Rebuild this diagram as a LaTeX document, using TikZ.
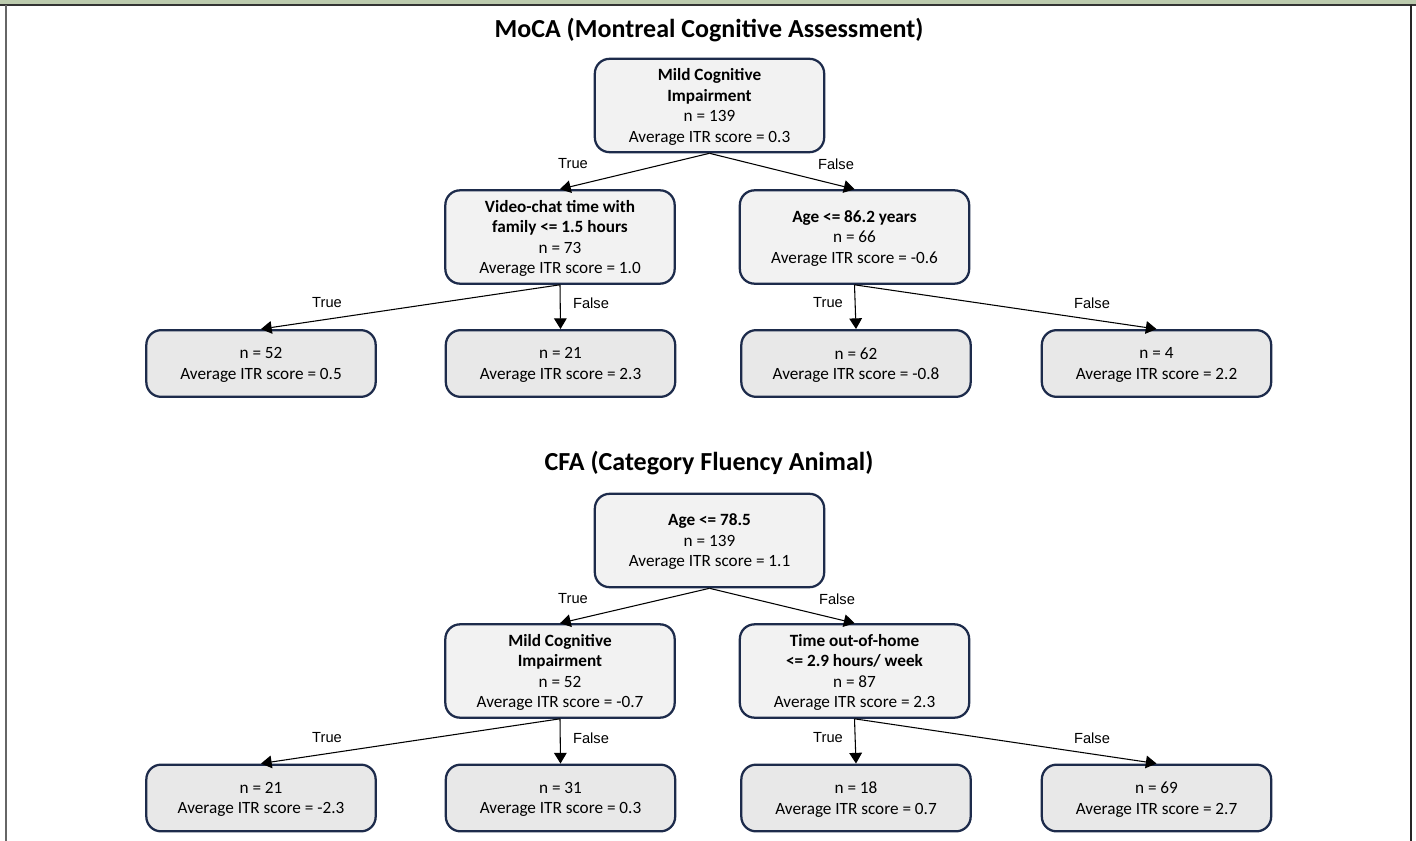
\documentclass[tikz,border=0pt]{standalone}
\usepackage{fontspec}
\setmainfont{Carlito}
\newfontfamily\lblfont{Liberation Sans}
\usetikzlibrary{arrows.meta,positioning}

\definecolor{boxline}{HTML}{1D2B4B}
\definecolor{innerfill}{HTML}{F2F2F2}
\definecolor{leaffill}{HTML}{E8E8E8}
\definecolor{bandgreen}{HTML}{BCCBAE}

\begin{document}
\begin{tikzpicture}[
        x=0.75pt, y=-0.75pt,
        every path/.style={line width=0.8pt},
        split/.style={draw=boxline, line width=1.7pt, rounded corners=11pt, fill=innerfill,
            align=center, minimum width=172pt, minimum height=70pt, inner sep=2pt,
            font=\fontsize{12.9}{15.4}\selectfont, text depth=-2.3pt},
        leaf/.style={split, fill=leaffill, minimum height=50pt},
        heading/.style={font=\fontsize{19.5}{23}\selectfont\bfseries},
        lbl/.style={font=\lblfont\fontsize{11}{13}\selectfont, inner sep=1pt},
        edge/.style={-{Triangle[length=8pt,width=9.5pt]}}
    ]

    % frame
    \useasboundingbox (0,0) rectangle (1416,841);
    \fill[bandgreen] (0,0) rectangle (1416,4);
    \draw[line width=1.5pt, black!80] (0,5) -- (1416,5);
    \draw[line width=1.5pt, black!60] (6,5) -- (6,841);
    \draw[line width=1.5pt, black!85] (1411,5) -- (1411,841);

    % MoCA tree
    \node[heading] (moca) at (709,30) {MoCA (Montreal Cognitive Assessment)};
    \node[split] (mci) at (709.5,105.5) {\textbf{Mild Cognitive}\\ \textbf{Impairment}\\ n = 139\\ Average ITR score = 0.3};
    \node[split] (video) at (560,237) {\textbf{Video-chat time with}\\ \textbf{family <= 1.5 hours}\\ n = 73\\ Average ITR score = 1.0};
    \node[split] (ageA) at (854.5,237) {\textbf{Age <= 86.2 years}\\ n = 66\\ Average ITR score = -0.6};
    \node[leaf] (mocaA) at (261,363.5) {n = 52\\ Average ITR score = 0.5};
    \node[leaf] (mocaB) at (560.5,363.5) {n = 21\\ Average ITR score = 2.3};
    \node[leaf] (mocaC) at (856,363.5) {n = 62\\ Average ITR score = -0.8};
    \node[leaf] (mocaD) at (1156.5,363.5) {n = 4\\ Average ITR score = 2.2};

    \draw[edge] (mci.south) -- (video.north);
    \draw[edge] (mci.south) -- (ageA.north);
    \draw[edge] (video.south) -- (mocaA.north);
    \draw[edge] (video.south) -- (mocaB.north);
    \draw[edge] (ageA.south) -- (mocaC.north);
    \draw[edge] (ageA.south) -- (mocaD.north);

    \node[lbl] (t1) at (573,164) {True};
    \node[lbl] (f1) at (836,164) {False};
    \node[lbl] (t2) at (327,303) {True};
    \node[lbl] (f2) at (591,303) {False};
    \node[lbl] (t3) at (828,303) {True};
    \node[lbl] (f3) at (1092,303) {False};

    % CFA tree
    \node[heading] (cfa) at (709,463) {CFA (Category Fluency Animal)};
    \node[split] (ageB) at (709.5,540.5) {\textbf{Age <= 78.5}\\ n = 139\\ Average ITR score = 1.1};
    \node[split] (mciB) at (560,671) {\textbf{Mild Cognitive}\\ \textbf{Impairment}\\ n = 52\\ Average ITR score = -0.7};
    \node[split] (outhome) at (854.5,671) {\textbf{Time out-of-home}\\ \textbf{<= 2.9 hours/ week}\\ n = 87\\ Average ITR score = 2.3};
    \node[leaf] (cfaA) at (261,798) {n = 21\\ Average ITR score = -2.3};
    \node[leaf] (cfaB) at (560.5,798) {n = 31\\ Average ITR score = 0.3};
    \node[leaf] (cfaC) at (856,798) {n = 18\\ Average ITR score = 0.7};
    \node[leaf] (cfaD) at (1156.5,798) {n = 69\\ Average ITR score = 2.7};

    \draw[edge] (ageB.south) -- (mciB.north);
    \draw[edge] (ageB.south) -- (outhome.north);
    \draw[edge] (mciB.south) -- (cfaA.north);
    \draw[edge] (mciB.south) -- (cfaB.north);
    \draw[edge] (outhome.south) -- (cfaC.north);
    \draw[edge] (outhome.south) -- (cfaD.north);

    \node[lbl] (t4) at (573,599) {True};
    \node[lbl] (f4) at (837,599) {False};
    \node[lbl] (t5) at (327,738) {True};
    \node[lbl] (f5) at (591,738) {False};
    \node[lbl] (t6) at (828,738) {True};
    \node[lbl] (f6) at (1092,738) {False};

\end{tikzpicture}
\end{document}
